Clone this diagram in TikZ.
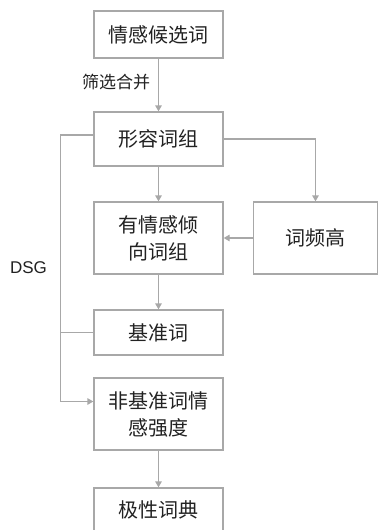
\documentclass[tikz,border=0pt]{standalone}
\usepackage{fontspec}
\setmainfont{Noto Sans CJK SC}
\newfontfamily\latinsans{Liberation Sans}
\usetikzlibrary{arrows.meta}
\definecolor{lc}{HTML}{A8A8A8}
\definecolor{tc}{HTML}{222222}
\tikzset{
  x=1pt, y=-1pt,
  boxnode/.style={draw=lc, line width=1.3pt, rectangle, minimum width=129pt, inner sep=0pt, align=center, text=tc, font=\fontsize{20}{27}\selectfont},
  conn/.style={draw=lc, line width=1.3pt},
  arr/.style={conn, -{Triangle[width=6.5pt,length=6pt]}},
  lbl/.style={text=tc, font=\fontsize{17}{20}\selectfont, inner sep=0pt}
}
\begin{document}
\begin{tikzpicture}
\clip (0,0) rectangle (378,530);
\fill[white] (0,0) rectangle (378,530);
\node[boxnode, minimum height=47pt] (b1) at (158.5,34.5) {情感候选词};
\node[boxnode, minimum height=54pt] (b2) at (158.5,139) {形容词组};
\node[boxnode, minimum height=72pt] (b3) at (158.5,238) {有情感倾\\向词组};
\node[boxnode, minimum height=72pt, minimum width=124.5pt] (b4) at (315.5,238) {词频高};
\node[boxnode, minimum height=45pt] (b5) at (158.5,332.5) {基准词};
\node[boxnode, minimum height=72pt] (b6) at (158.5,414) {非基准词情\\感强度};
\node[boxnode, minimum height=44pt] (b7) at (158.5,510) {极性词典};
\node[lbl] (l1) at (116,82) {筛选合并};
\node[lbl, font=\latinsans\fontsize{17}{20}\selectfont] (l2) at (28.5,268) {DSG};
\draw[arr] (b1.south) -- (b2.north);
\draw[arr] (b2.south) -- (b3.north);
\draw[arr] (b2.east) -| (b4.north);
\draw[arr] (b4.west) -- (b3.east);
\draw[arr] (b3.south) -- (b5.north);
\draw[arr] (b6.south) -- (b7.north);
\draw[arr] ([yshift=4pt]b2.west) -- ++(-33,0) |- ([yshift=12.5pt]b6.west);
\draw[conn] (b5.west) -- ++(-33,0);
\end{tikzpicture}
\end{document}
